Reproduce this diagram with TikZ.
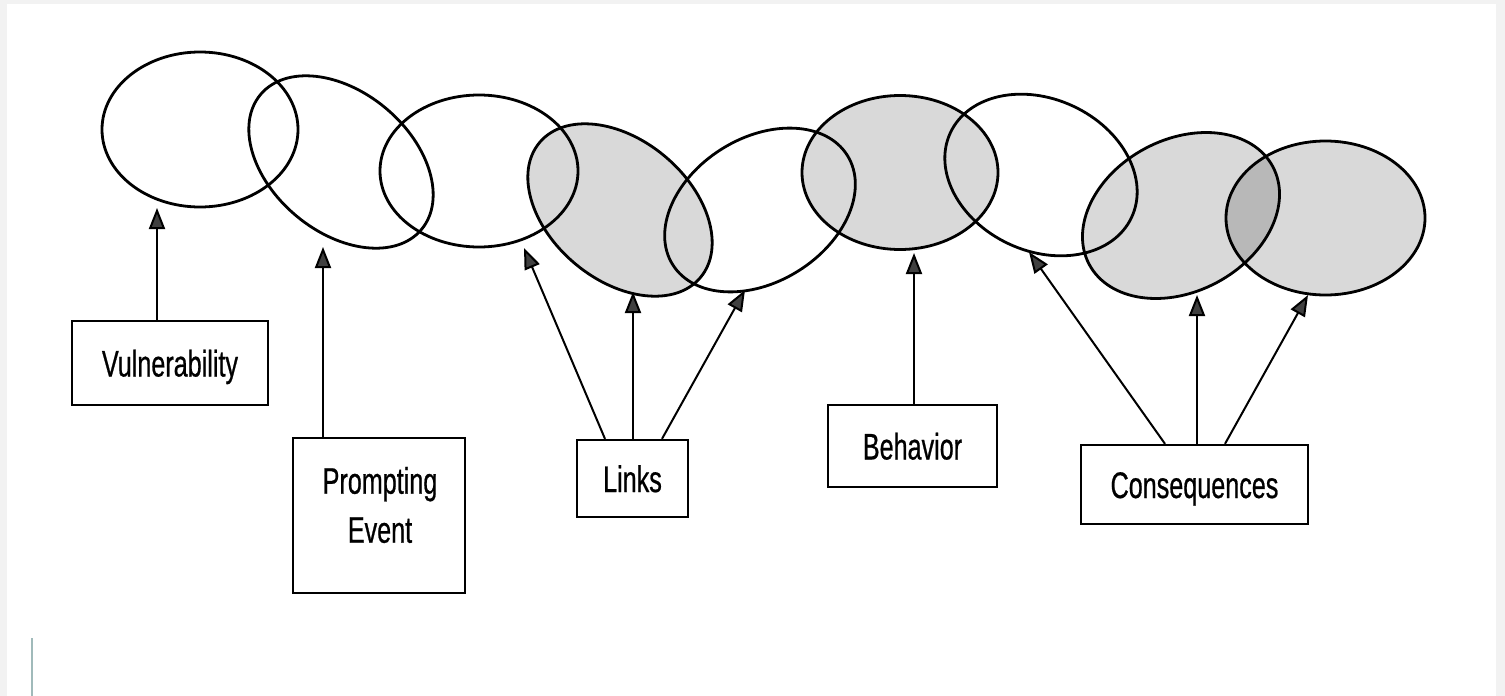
\documentclass[tikz,border=0pt]{standalone}
\usepackage{fontspec}
\newfontfamily\labfont[FakeStretch=0.68,FakeBold=0.6]{Liberation Sans}
\usetikzlibrary{shapes.geometric,arrows.meta,calc}
\definecolor{framegray}{RGB}{242,242,242}
\definecolor{strayline}{RGB}{160,186,186}
\begin{document}
\begin{tikzpicture}[x=1pt,y=-1pt,
  ring/.style={ellipse, draw=black, line width=2.8pt, inner sep=0pt},
  shadedring/.style={ring, fill=black, fill opacity=0.15},
  labelbox/.style={draw=black, line width=2.3pt, inner sep=0pt,
    font=\labfont\fontsize{37}{46}\selectfont, text height=27pt, text depth=0pt},
  plainbox/.style={draw=black, line width=2.3pt, inner sep=0pt},
  conn/.style={line width=2pt, draw=black,
    -{Triangle[length=21pt,width=16pt,fill=black!75]}}
]
% page and frame
\fill[framegray] (0,0) rectangle (1505,696);
\fill[white] (7,4) rectangle (1496,696);
\useasboundingbox (0,0) rectangle (1505,696);
\draw[strayline, line width=1.5pt] (32,638) -- (32,696);

% chain of ellipses
\node[ring, minimum width=196pt, minimum height=155pt] (e1) at (200,129.5) {};
\node[ring, minimum width=210pt, minimum height=140pt, rotate=-40] (e2) at (341,162) {};
\node[ring, minimum width=198pt, minimum height=152pt] (e3) at (479,171) {};
\node[shadedring, minimum width=210pt, minimum height=140pt, rotate=-40] (e4) at (620,210) {};
\node[ring, minimum width=206pt, minimum height=144pt, rotate=32] (e5) at (760,210) {};
\node[shadedring, minimum width=196pt, minimum height=154pt] (e6) at (900,172.5) {};
\node[ring, minimum width=200pt, minimum height=152pt, rotate=-25] (e7) at (1041,175) {};
\node[shadedring, minimum width=208pt, minimum height=152pt, rotate=28] (e8) at (1181,215.5) {};
\node[shadedring, minimum width=199pt, minimum height=154pt] (e9) at (1325.5,218) {};

% label boxes
\node[labelbox, minimum width=196pt, minimum height=84pt] (vul) at (170,363) {Vulnerability};
\node[plainbox, minimum width=172pt, minimum height=155pt] (pe) at (379,515.5) {};
\node[font=\labfont\fontsize{37}{49}\selectfont, align=center, inner sep=0pt] (pet) at (380,505) {Prompting\\Event};
\node[labelbox, minimum width=111pt, minimum height=77pt] (links) at (632.5,478.5) {Links};
\node[labelbox, minimum width=169pt, minimum height=82pt] (beh) at (912.5,446) {Behavior};
\node[labelbox, minimum width=227pt, minimum height=79pt] (cons) at (1194.5,484.5) {Consequences};

% arrow targets
\coordinate (tvul) at (157,208);
\coordinate (tpe) at (323,247);
\coordinate (tl1) at (524,248);
\coordinate (tl2) at (633,292);
\coordinate (tl3) at (745,290);
\coordinate (tbeh) at (914,253);
\coordinate (tc1) at (1029,252);
\coordinate (tc2) at (1197,295);
\coordinate (tc3) at (1308,295);

% connectors
\draw[conn] ($(vul.north)+(-13,0)$) -- (tvul);
\draw[conn] ($(pe.north)+(-56,0)$) -- (tpe);
\draw[conn] ($(links.north)+(-27.5,0)$) -- (tl1);
\draw[conn] ($(links.north)+(0.5,0)$) -- (tl2);
\draw[conn] ($(links.north)+(29.5,0)$) -- (tl3);
\draw[conn] ($(beh.north)+(1.5,0)$) -- (tbeh);
\draw[conn] ($(cons.north)+(-29.5,0)$) -- (tc1);
\draw[conn] ($(cons.north)+(2.5,0)$) -- (tc2);
\draw[conn] ($(cons.north)+(30.5,0)$) -- (tc3);
\end{tikzpicture}
\end{document}
